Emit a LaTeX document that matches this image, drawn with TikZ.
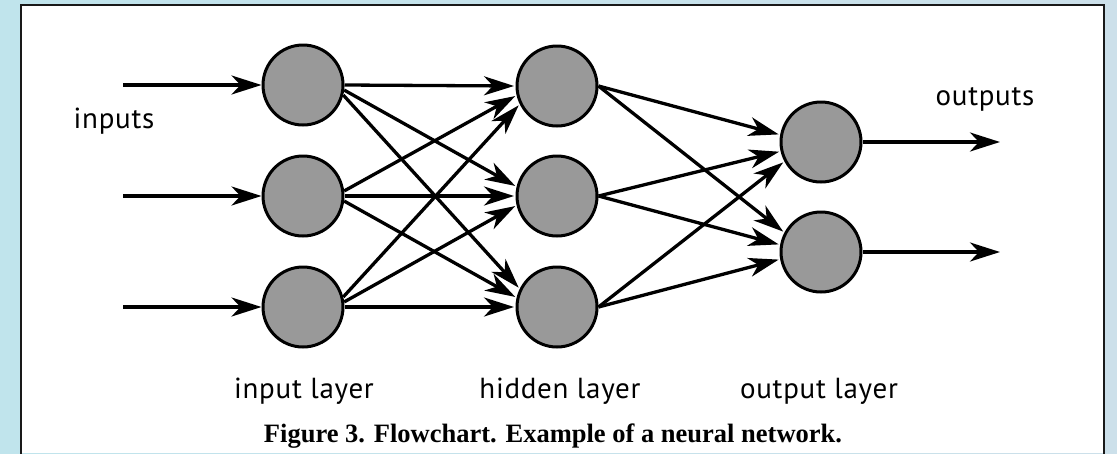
\documentclass[tikz,border=0pt]{standalone}
\usepackage{fontspec}
\setmainfont{Liberation Serif}
\newfontfamily\labelfont[LetterSpace=2.5]{PT Sans}
\usetikzlibrary{arrows.meta}
\definecolor{bgleft}{RGB}{192,228,236}
\definecolor{bgright}{RGB}{204,224,234}
\definecolor{nodegray}{RGB}{153,153,153}
\definecolor{framecol}{RGB}{25,25,25}
\begin{document}
\begin{tikzpicture}[x=1pt,y=-1pt,
  neuron/.style={circle,draw,line width=3pt,fill=nodegray,minimum size=80pt,inner sep=0pt},
  link/.style={line width=3.3pt,shorten >=1.5pt,-{Stealth[length=30pt,width=19pt,inset=9pt]}},
  lbl/.style={font=\labelfont\fontsize{29}{34}\selectfont,anchor=base,inner sep=0pt},
  capt/.style={font=\bfseries\fontsize{26.5}{32}\selectfont,anchor=base,inner sep=0pt}]
\useasboundingbox (0,0) rectangle (1117,453);
% page background and white panel
\fill[left color=bgleft,right color=bgright] (0,0) rectangle (1117,453);
\fill[white] (21,5) rectangle (1104,453);
\draw[line width=2.5pt,framecol] (21,455) -- (21,5) -- (1104,5) -- (1104,455);

% neurons
\node[neuron] (i1) at (303,85) {};
\node[neuron] (i2) at (303,196) {};
\node[neuron] (i3) at (303,307) {};
\node[neuron] (h1) at (557,86) {};
\node[neuron] (h2) at (557,196) {};
\node[neuron] (h3) at (557,307) {};
\node[neuron] (o1) at (821,142) {};
\node[neuron] (o2) at (821,252) {};

% inputs and outputs
\coordinate (in1) at (123,85);
\coordinate (in2) at (123,196);
\coordinate (in3) at (123,307);
\coordinate (out1) at (1000,142);
\coordinate (out2) at (1000,252);
\draw[link,shorten >=0pt] (in1) -- (i1.west);
\draw[link,shorten >=0pt] (in2) -- (i2.west);
\draw[link,shorten >=0pt] (in3) -- (i3.west);
\draw[link,shorten >=0pt] (o1.east) -- (out1);
\draw[link,shorten >=0pt] (o2.east) -- (out2);

% input layer to hidden layer
\draw[link] (i1.east) -- (h1.west);
\draw[link] (i1.-7) -- (h2.167);
\draw[link] (i1.-14) -- (h3.154);
\draw[link] (i2.7) -- (h1.193);
\draw[link] (i2.east) -- (h2.west);
\draw[link] (i2.-7) -- (h3.167);
\draw[link] (i3.14) -- (h1.206);
\draw[link] (i3.7) -- (h2.193);
\draw[link] (i3.east) -- (h3.west);

% hidden layer to output layer
\draw[link] (h1.east) -- (o1.170);
\draw[link] (h1.east) -- (o2.152);
\draw[link] (h2.east) -- (o1.193);
\draw[link] (h2.east) -- (o2.170);
\draw[link] (h3.east) -- (o1.208);
\draw[link] (h3.east) -- (o2.190);

% labels
\node[lbl] (tin) at (114,128) {inputs};
\node[lbl] (tout) at (985,105) {outputs};
\node[lbl] (tli) at (304,398) {input layer};
\node[lbl] (tlh) at (560,398) {hidden layer};
\node[lbl] (tlo) at (819,398) {output layer};
\node[capt] (cap) at (553,442) {Figure 3. Flowchart. Example of a neural network.};
\end{tikzpicture}
\end{document}
